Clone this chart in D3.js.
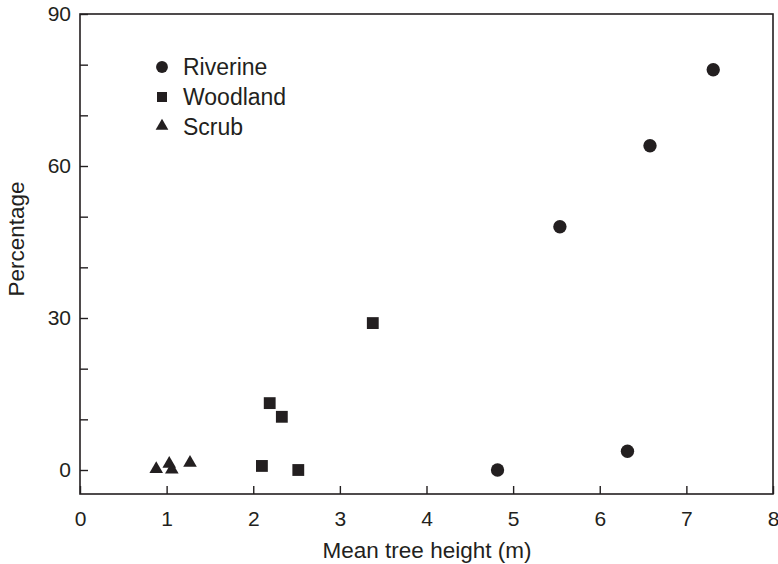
<!DOCTYPE html>
<html>
<head>
<style>
  body { margin: 0; background: #fff; }
  svg text { font-family: "Liberation Sans", Arial, sans-serif; fill: #231f20; }
</style>
</head>
<body>
<script src="https://d3js.org/d3.v7.min.js"></script>
<svg width="778" height="564"></svg>
<script>
// values
var riverineX = [4.82, 5.54, 6.32, 6.58, 7.31];
var riverineY = [0, 48, 3.7, 64, 79];
var woodlandX = [2.10, 2.19, 2.33, 2.52, 3.38];
var woodlandY = [0.8, 13.2, 10.5, 0, 29];
var scrubX = [0.88, 1.03, 1.06, 1.27];
var scrubY = [0.2, 1.2, 0.1, 1.4];
var xTicks = [0, 1, 2, 3, 4, 5, 6, 7, 8];
var yTicks = [0, 10, 20, 30, 40, 50, 60, 70, 80, 90];
var yLabels = [0, 30, 60, 90];
var seriesNames = ["Riverine", "Woodland", "Scrub"];

var ink = "#231f20";
var svg = d3.select("svg");
var mLeft = 80, mRight = 773, mTop = 14, mBottom = 494;

var x = d3.scaleLinear().domain([0, 8]).range([mLeft, mRight]);
var y = d3.scaleLinear().domain([0, 90]).range([470, mTop]);

// frame
svg.append("rect")
  .attr("x", mLeft).attr("y", mTop)
  .attr("width", mRight - mLeft).attr("height", mBottom - mTop)
  .attr("fill", "none").attr("stroke", ink).attr("stroke-width", 1.6);

// x axis ticks (inward) and labels
var xAxis = d3.axisBottom(x).tickValues(xTicks).tickSize(0).tickPadding(17)
  .tickFormat(d3.format("d"));
var gx = svg.append("g").attr("transform", "translate(0," + mBottom + ")").call(xAxis);
gx.select(".domain").remove();
gx.selectAll("text").attr("font-size", 21).attr("fill", ink);
gx.selectAll(".tick").append("line")
  .attr("y1", 0).attr("y2", -8).attr("stroke", ink).attr("stroke-width", 1.4);

// y axis ticks (inward), labels only every 30
var yAxis = d3.axisLeft(y).tickValues(yTicks).tickSize(0).tickPadding(9)
  .tickFormat(function(d) { return yLabels.indexOf(d) >= 0 ? d : ""; });
var gy = svg.append("g").attr("transform", "translate(" + mLeft + ",0)").call(yAxis);
gy.select(".domain").remove();
gy.selectAll("text").attr("font-size", 21).attr("fill", ink);
gy.selectAll(".tick").append("line")
  .attr("x1", 0).attr("x2", 8).attr("stroke", ink).attr("stroke-width", 1.4);

// axis titles
svg.append("text").attr("x", 427).attr("y", 558)
  .attr("text-anchor", "middle").attr("font-size", 22.5)
  .text("Mean tree height (m)");
svg.append("text").attr("transform", "translate(24,239) rotate(-90)")
  .attr("text-anchor", "middle").attr("font-size", 22.5)
  .text("Percentage");

var symbols = [d3.symbolCircle, d3.symbolSquare, d3.symbolTriangle];
var sizes = [140, 140, 80];
var series = [
  { x: riverineX, y: riverineY },
  { x: woodlandX, y: woodlandY },
  { x: scrubX, y: scrubY }
];

series.forEach(function(s, i) {
  var pts = s.x.map(function(v, j) { return [v, s.y[j]]; });
  svg.append("g").selectAll("path")
    .data(pts).enter().append("path")
    .attr("transform", function(d) {
      return "translate(" + x(d[0]) + "," + y(d[1]) + ")";
    })
    .attr("d", d3.symbol().type(symbols[i]).size(sizes[i]))
    .attr("fill", ink);
});

// legend
var legend = svg.append("g").attr("transform", "translate(162,67)");
var lg = legend.selectAll("g").data(seriesNames).enter().append("g")
  .attr("transform", function(d, i) { return "translate(0," + i * 30 + ")"; });
lg.append("path")
  .attr("d", function(d, i) {
    return d3.symbol().type(symbols[i]).size([110, 100, 70][i])();
  })
  .attr("transform", function(d, i) { return i === 2 ? "translate(0,-1)" : null; })
  .attr("fill", ink);
lg.append("text").attr("x", 21).attr("y", 8).attr("font-size", 23)
  .text(function(d) { return d; });
</script>
</body>
</html>
